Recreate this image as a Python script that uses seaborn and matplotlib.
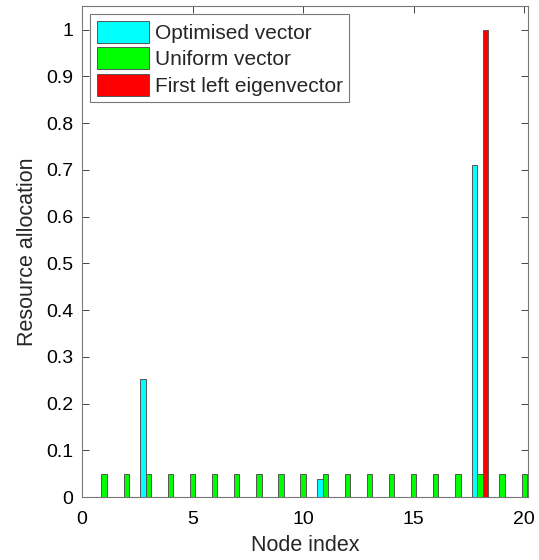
import numpy as np
import pandas as pd
import matplotlib
matplotlib.use("Agg")
import matplotlib.pyplot as plt
import seaborn as sns

nodes = list(range(1, 21))
optimised = [0, 0, 0.253, 0, 0, 0, 0, 0, 0, 0, 0.038, 0, 0, 0, 0, 0, 0, 0.711, 0, 0]
uniform = [0.05] * 20
eigenvector = [0] * 17 + [1.0] + [0, 0]
series = ["Optimised vector", "Uniform vector", "First left eigenvector"]
colors = ["#00ffff", "#00ff00", "#ff0000"]

df = pd.DataFrame({
    "node": nodes * 3,
    "value": optimised + uniform + eigenvector,
    "series": [series[0]] * 20 + [series[1]] * 20 + [series[2]] * 20,
})

sns.set_style("ticks")
plt.rcParams["font.family"] = ["Liberation Sans", "DejaVu Sans"]

fig = plt.figure(figsize=(5.39, 5.6), dpi=100)
ax = fig.add_axes([0.152, 0.1125, 0.828, 0.8765])

sns.barplot(data=df, x="node", y="value", hue="series", hue_order=series,
            palette=colors, saturation=1, native_scale=True, width=0.72, gap=0,
            edgecolor="#555555", linewidth=0.7, ax=ax)

ax.set_xlim(0, 20.18)
ax.set_ylim(0, 1.05)
ax.set_xticks([0, 5, 10, 15, 20])
ax.set_xticklabels(["0", "5", "10", "15", "20"])
ax.set_yticks(np.arange(0, 1.01, 0.1))
ax.set_yticklabels(["0", "0.1", "0.2", "0.3", "0.4", "0.5", "0.6", "0.7", "0.8", "0.9", "1"])
ax.tick_params(direction="in", length=5, width=0.7, colors="#444444",
               labelcolor="black", labelsize=14, top=True, right=True)
ax.tick_params(axis="y", pad=6)
ax.tick_params(axis="x", pad=10)
for s in ax.spines.values():
    s.set_visible(True)
    s.set_color("#777777")
    s.set_linewidth(0.8)

ax.set_xlabel("Node index", fontsize=15.5, labelpad=5)
ax.set_ylabel("Resource allocation", fontsize=15.5, labelpad=6)

leg = ax.legend(loc="upper left", fontsize=15, fancybox=False, framealpha=1,
                edgecolor="#777777", handlelength=2.5, handleheight=1.25,
                handletextpad=0.3, borderpad=0.3, labelspacing=0.22,
                borderaxespad=0.4)
leg.get_frame().set_linewidth(0.8)

fig.savefig("out.png", dpi=100)
